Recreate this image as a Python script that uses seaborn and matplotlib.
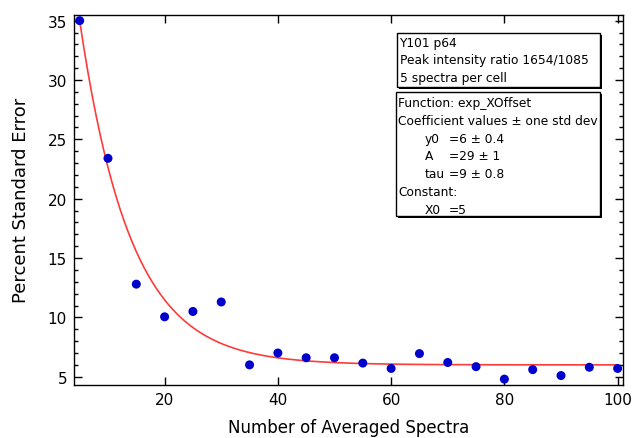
import numpy as np
import pandas as pd
import matplotlib
matplotlib.use("Agg")
import matplotlib.pyplot as plt
import matplotlib.transforms as mtrans
from matplotlib.patches import Rectangle
import seaborn as sns
from matplotlib.ticker import MultipleLocator

# measured points
n_spectra = [5, 10, 15, 20, 25, 30, 35, 40, 45, 50, 55, 60, 65, 70, 75, 80, 85, 90, 95, 100]
pct_std_err = [35.0, 23.4, 12.8, 10.05, 10.5, 11.3, 6.0, 7.0, 6.6, 6.6, 6.15, 5.7,
               6.95, 6.2, 5.85, 4.8, 5.6, 5.1, 5.8, 5.7]

# fit coefficients (exp_XOffset)
y0, amp, tau, x0 = 6.0, 29.0, 9.0, 5.0

info_lines = ["Y101 p64", "Peak intensity ratio 1654/1085", "5 spectra per cell"]
fit_head = ["Function: exp_XOffset", "Coefficient values \u00b1 one std dev"]
coef_names = ["y0", "A", "tau"]
coef_vals = ["=6 \u00b1 0.4", "=29 \u00b1 1", "=9 \u00b1 0.8"]
const_names = ["X0"]
const_vals = ["=5"]

sns.set_style("ticks")
plt.rcParams['font.family'] = ['DejaVu Sans']
plt.rcParams['text.color'] = 'black'

df = pd.DataFrame({"x": n_spectra, "y": pct_std_err})
xfit = np.linspace(x0, 100, 400)
fit = pd.DataFrame({"x": xfit, "y": y0 + amp * np.exp(-(xfit - x0) / tau)})

W, H = 634, 439
fig = plt.figure(figsize=(W / 100, H / 100), dpi=100)
ax = fig.add_axes([74 / W, 1 - 385.7 / H, 549.3 / W, 370 / H])

sns.lineplot(data=fit, x="x", y="y", ax=ax, color="#ff3b3b", linewidth=1.2, zorder=2)
sns.scatterplot(data=df, x="x", y="y", ax=ax, color="#0000cc", s=42,
                edgecolor="none", zorder=3, clip_on=False)

ax.set_xlim(4.0, 101.0)
ax.set_ylim(4.33, 35.5)
ax.xaxis.set_major_locator(MultipleLocator(20))
ax.yaxis.set_major_locator(MultipleLocator(5))
ax.yaxis.set_minor_locator(MultipleLocator(1))
ax.tick_params(which="both", direction="in", top=True, right=True, width=1.0,
               labelsize=11, colors="black", pad=5)
ax.tick_params(which="major", length=6)
ax.tick_params(which="minor", length=2.7)
for s in ax.spines.values():
    s.set_linewidth(1.0)
    s.set_color("black")

ax.set_xlabel("Number of Averaged Spectra", fontsize=12, color="black", labelpad=8)
ax.set_ylabel("Percent Standard Error", fontsize=13, color="black", labelpad=13)

# pixel coordinates (origin top-left) for the annotation boxes
px = mtrans.Affine2D().scale(1 / W, -1 / H).translate(0, 1) + fig.transFigure
fs = 8.8
step = 17.8


def draw_box(x_left, y_top, x_right, y_bot):
    fig.patches.append(Rectangle((x_left + 1.5, y_bot + 1.5), x_right - x_left, y_top - y_bot,
                                 transform=px, facecolor="black", edgecolor="none", zorder=5))
    fig.patches.append(Rectangle((x_left, y_bot), x_right - x_left, y_top - y_bot,
                                 transform=px, facecolor="white", edgecolor="black",
                                 linewidth=1.0, zorder=6))


draw_box(397, 34, 600, 88)
for i, line in enumerate(info_lines):
    fig.text(399.5, 43 + i * step, line, transform=px, fontsize=fs, va="center", zorder=7)

draw_box(396, 93, 600, 217)
y = 103.5
for line in fit_head:
    fig.text(398.5, y, line, transform=px, fontsize=fs, va="center", zorder=7)
    y += step
for name, val in zip(coef_names, coef_vals):
    fig.text(425, y, name, transform=px, fontsize=fs, va="center", zorder=7)
    fig.text(449, y, val, transform=px, fontsize=fs, va="center", zorder=7)
    y += step
fig.text(398.5, y, "Constant:", transform=px, fontsize=fs, va="center", zorder=7)
y += step
for name, val in zip(const_names, const_vals):
    fig.text(425, y, name, transform=px, fontsize=fs, va="center", zorder=7)
    fig.text(449, y, val, transform=px, fontsize=fs, va="center", zorder=7)
    y += step

fig.savefig("out.png", dpi=100)
